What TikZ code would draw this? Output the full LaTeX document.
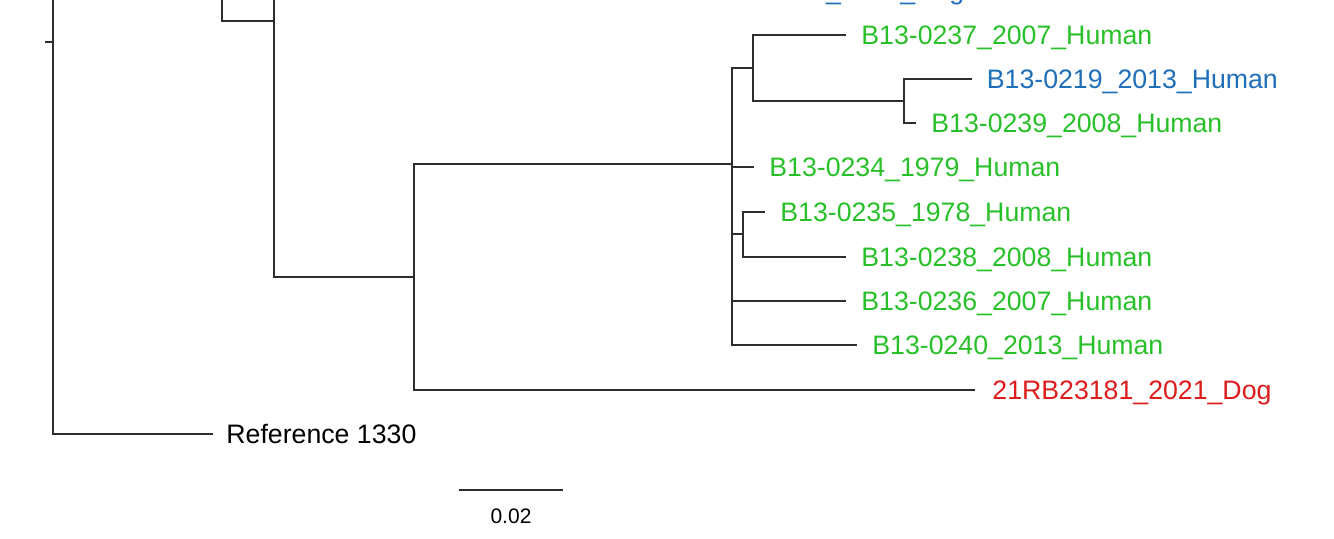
\documentclass[tikz,border=0pt]{standalone}
\usepackage{fontspec}
\setmainfont{Liberation Sans}
\definecolor{tgreen}{RGB}{40,192,40}
\definecolor{tblue}{RGB}{30,110,185}
\definecolor{tred}{RGB}{222,28,28}
\definecolor{linec}{RGB}{45,45,45}
\begin{document}
\begin{tikzpicture}[x=0.5pt,y=-0.5pt,
  br/.style={draw=linec, line width=1pt},
  lab/.style={anchor=west, inner sep=0pt, text height=9.6pt, text depth=0pt, font=\fontsize{13.35pt}{16pt}\selectfont},
  glab/.style={lab, text=tgreen},
  blab/.style={lab, text=tblue},
  rlab/.style={lab, text=tred},
  klab/.style={lab, text=black}]
\useasboundingbox (0,0) rectangle (1334,538);
% internal nodes
\coordinate (rootstem) at (45,42);
\coordinate (root) at (53,42);
\coordinate (roottop) at (53,-30);
\coordinate (n222top) at (222,-30);
\coordinate (n274) at (274,21);
\coordinate (n274top) at (274,-30);
\coordinate (n414) at (414,277);
\coordinate (n732) at (732,164.3);
\coordinate (n753) at (753,67.7);
\coordinate (n904) at (904,101);
\coordinate (n743) at (743,234.2);
% tips
\coordinate (t0237) at (846,34.5);
\coordinate (t0219) at (971.5,79);
\coordinate (t0239) at (916,123.3);
\coordinate (t0234) at (754,167.3);
\coordinate (t0235) at (765,212);
\coordinate (t0238) at (846,256.5);
\coordinate (t0236) at (846,300.8);
\coordinate (t0240) at (857,345.2);
\coordinate (t21RB) at (975,389.5);
\coordinate (tRef) at (213,434);
% branches
\draw[br] (rootstem) -- (root);
\draw[br] (roottop) |- (tRef);
\draw[br] (n222top) |- (n274);
\draw[br] (n274top) |- (n414);
\draw[br] (n414) |- (n732);
\draw[br] (n414) |- (t21RB);
\draw[br] (n732) |- (n753);
\draw[br] (n732) |- (t0234);
\draw[br] (n732) |- (n743);
\draw[br] (n732) |- (t0236);
\draw[br] (n732) |- (t0240);
\draw[br] (n753) |- (t0237);
\draw[br] (n753) |- (n904);
\draw[br] (n904) |- (t0219);
\draw[br] (n904) |- (t0239);
\draw[br] (n743) |- (t0235);
\draw[br] (n743) |- (t0238);
% labels
\node[blab] (ltop) at (710,-10.5) {B13-0233\_2013\_Dog};
\node[glab] (l0237) at ([xshift=7.5pt]t0237) {B13-0237\_2007\_Human};
\node[blab] (l0219) at ([xshift=7.5pt]t0219) {B13-0219\_2013\_Human};
\node[glab] (l0239) at ([xshift=7.5pt]t0239) {B13-0239\_2008\_Human};
\node[glab] (l0234) at ([xshift=7.5pt]t0234) {B13-0234\_1979\_Human};
\node[glab] (l0235) at ([xshift=7.5pt]t0235) {B13-0235\_1978\_Human};
\node[glab] (l0238) at ([xshift=7.5pt]t0238) {B13-0238\_2008\_Human};
\node[glab] (l0236) at ([xshift=7.5pt]t0236) {B13-0236\_2007\_Human};
\node[glab] (l0240) at ([xshift=7.5pt]t0240) {B13-0240\_2013\_Human};
\node[rlab] (l21RB) at ([xshift=8.5pt]t21RB) {21RB23181\_2021\_Dog};
\node[klab] (lRef) at ([xshift=6.5pt]tRef) {Reference 1330};
% scale bar
\coordinate (sbl) at (458.5,490);
\coordinate (sbr) at (562.5,490);
\draw[br] (sbl) -- (sbr);
\node[inner sep=0pt, text height=7.5pt, text depth=0pt, font=\fontsize{10.5pt}{12pt}\selectfont] (sblab) at (511,515.7) {0.02};
\end{tikzpicture}
\end{document}
